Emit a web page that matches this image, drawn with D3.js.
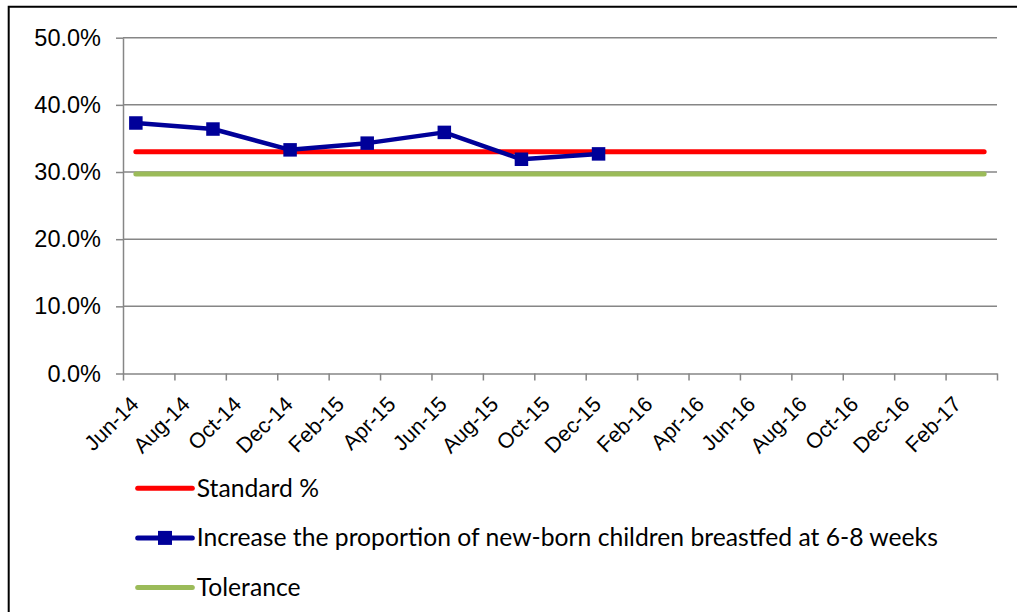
<!DOCTYPE html>
<html>
<head>
<meta charset="utf-8">
<script src="https://cdn.jsdelivr.net/npm/d3@7"></script>
<style>
  html, body { margin: 0; padding: 0; background: #fff; }
  svg { display: block; }
</style>
</head>
<body>
<svg id="chart" width="1017" height="612"></svg>
<script>
// ---- data ----
const months = ["Jun-14","Jul-14","Aug-14","Sep-14","Oct-14","Nov-14","Dec-14","Jan-15","Feb-15","Mar-15",
  "Apr-15","May-15","Jun-15","Jul-15","Aug-15","Sep-15","Oct-15","Nov-15","Dec-15","Jan-16","Feb-16",
  "Mar-16","Apr-16","May-16","Jun-16","Jul-16","Aug-16","Sep-16","Oct-16","Nov-16","Dec-16","Jan-17",
  "Feb-17","Mar-17"];
const tickLabels = ["Jun-14","Aug-14","Oct-14","Dec-14","Feb-15","Apr-15","Jun-15","Aug-15","Oct-15",
  "Dec-15","Feb-16","Apr-16","Jun-16","Aug-16","Oct-16","Dec-16","Feb-17"];
const yTicks = [0, 0.1, 0.2, 0.3, 0.4, 0.5];

const breastfedMonths = ["Jun-14","Sep-14","Dec-14","Mar-15","Jun-15","Sep-15","Dec-15"];
const breastfedValues = [0.373, 0.364, 0.333, 0.343, 0.359, 0.319, 0.327];
const standardMonths = ["Jun-14","Mar-17"];
const standardValues = [0.33, 0.33];
const toleranceMonths = ["Jun-14","Mar-17"];
const toleranceValues = [0.297, 0.297];

const seriesNames = ["Standard %", "Increase the proportion of new-born children breastfed at 6-8 weeks", "Tolerance"];
const seriesColors = ["#ff0000", "#000099", "#9bbb59"];

// ---- layout ----
const svg = d3.select("#chart");
const plotLeft = 123, plotRight = 997, plotTop = 37.7, plotBottom = 373.5;
const axisColor = "#868686";

const xi = d3.scaleLinear().domain([0, months.length]).range([plotLeft, plotRight]);
const xm = m => xi(months.indexOf(m) + 0.5);
const y = d3.scaleLinear().domain([0, 0.5]).range([plotBottom, plotTop]);

// outer border (top and left edges visible)
svg.append("path").attr("d", `M8.7,612 L8.7,6.7 L1017,6.7`)
  .attr("fill", "none").attr("stroke", "#000").attr("stroke-width", 2);

// gridlines
svg.append("g").selectAll("line").data(yTicks.filter(d => d > 0)).join("line")
  .attr("x1", plotLeft).attr("x2", plotRight)
  .attr("y1", d => y(d)).attr("y2", d => y(d))
  .attr("stroke", axisColor).attr("stroke-width", 1.5);

// y axis
const yAxis = svg.append("g").attr("transform", `translate(${plotLeft},0)`)
  .call(d3.axisLeft(y).tickValues(yTicks).tickFormat(d3.format(".1%")).tickSize(7).tickSizeOuter(0).tickPadding(15));
yAxis.select(".domain").attr("stroke", axisColor).attr("stroke-width", 1.5);
yAxis.selectAll(".tick line").attr("stroke", axisColor).attr("stroke-width", 1.5);
yAxis.selectAll(".tick text").attr("font-family", "'Liberation Sans', Arial, sans-serif")
  .attr("font-size", 23.5).attr("fill", "#000");

// x axis
const xTickIdx = d3.range(0, months.length + 1, 2);
const xAxis = svg.append("g").attr("transform", `translate(0,${plotBottom})`)
  .call(d3.axisBottom(xi).tickValues(xTickIdx).tickSize(7).tickSizeOuter(0)
    .tickFormat(i => tickLabels[i / 2] || ""));
xAxis.select(".domain").attr("stroke", axisColor).attr("stroke-width", 1.5);
xAxis.selectAll(".tick line").attr("stroke", axisColor).attr("stroke-width", 1.5);
const halfMonth = (xi(1) - xi(0)) / 2;
xAxis.selectAll(".tick text")
  .attr("font-family", "'Liberation Sans', Arial, sans-serif")
  .attr("font-size", 21.5).attr("fill", "#000")
  .attr("text-anchor", "end").attr("dy", null).attr("y", 0)
  .attr("transform", `translate(${halfMonth + 3.5},32) rotate(-45)`);

// lines
const line = d3.line().x(d => xm(d[0])).y(d => y(d[1]));
const plot = svg.append("g");
plot.append("path").datum(toleranceMonths.map((m, i) => [m, toleranceValues[i]]))
  .attr("d", line).attr("fill", "none").attr("stroke", seriesColors[2])
  .attr("stroke-width", 5).attr("stroke-linecap", "round");
plot.append("path").datum(standardMonths.map((m, i) => [m, standardValues[i]]))
  .attr("d", line).attr("fill", "none").attr("stroke", seriesColors[0])
  .attr("stroke-width", 5).attr("stroke-linecap", "round");
const bf = breastfedMonths.map((m, i) => [m, breastfedValues[i]]);
plot.append("path").datum(bf)
  .attr("d", line).attr("fill", "none").attr("stroke", seriesColors[1])
  .attr("stroke-width", 4.5).attr("stroke-linejoin", "round");
const ms = 13.5;
plot.selectAll("rect.marker").data(bf).join("rect").attr("class", "marker")
  .attr("x", d => xm(d[0]) - ms / 2).attr("y", d => y(d[1]) - ms / 2)
  .attr("width", ms).attr("height", ms).attr("fill", seriesColors[1]);

// legend
const legend = svg.append("g").attr("transform", "translate(137.7,488.3)");
const items = legend.selectAll("g").data(seriesNames).join("g")
  .attr("transform", (d, i) => `translate(0,${i * 49.6})`);
items.append("line").attr("x1", 0).attr("x2", 54.6).attr("y1", 0).attr("y2", 0)
  .attr("stroke", (d, i) => seriesColors[i]).attr("stroke-width", 5).attr("stroke-linecap", "round");
items.filter((d, i) => i === 1).append("rect")
  .attr("x", 27.3 - 7).attr("y", -7).attr("width", 14).attr("height", 14).attr("fill", seriesColors[1]);
items.append("text").attr("x", 59).attr("y", 8.5)
  .attr("font-family", "Lato, 'Open Sans', sans-serif").attr("font-size", 24.7).attr("fill", "#000")
  .text(d => d);
</script>
</body>
</html>
